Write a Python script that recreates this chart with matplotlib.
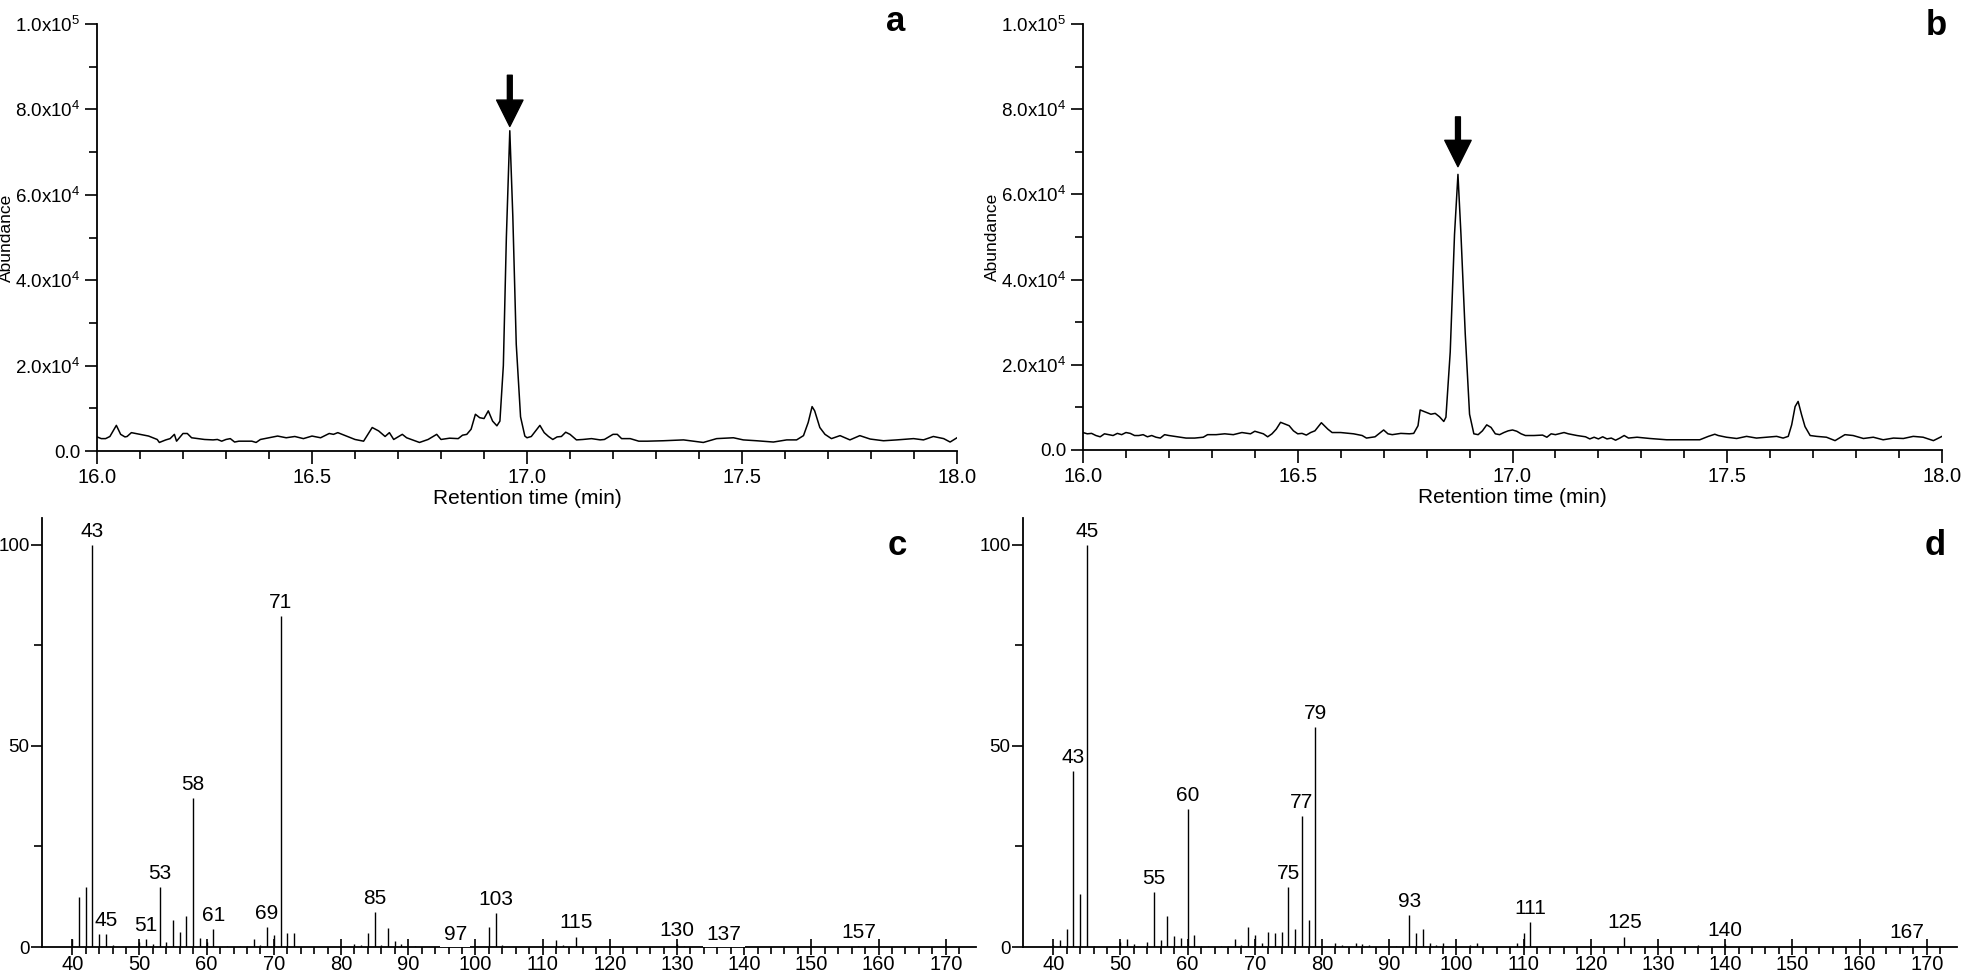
import numpy as np
import matplotlib
matplotlib.use("Agg")
import matplotlib.pyplot as plt
from matplotlib.ticker import FixedLocator, FuncFormatter

plt.rcParams['font.family'] = ['Liberation Sans', 'DejaVu Sans']
plt.rcParams['mathtext.fontset'] = 'custom'
plt.rcParams['mathtext.rm'] = 'Liberation Sans'

# ---- chromatogram a (time in min, abundance in 1e3 counts) ----
t_a = [16.00, 16.01, 16.02, 16.03, 16.045, 16.055, 16.065, 16.07, 16.08, 16.10,
       16.12, 16.14, 16.145, 16.16, 16.17, 16.18, 16.185, 16.20, 16.21, 16.22,
       16.235, 16.25, 16.27, 16.28, 16.29, 16.30, 16.31, 16.32, 16.33, 16.36,
       16.37, 16.38, 16.40, 16.42, 16.44, 16.46, 16.48, 16.50, 16.52, 16.54,
       16.55, 16.56, 16.58, 16.60, 16.62, 16.64, 16.655, 16.67, 16.68, 16.69,
       16.71, 16.72, 16.75, 16.77, 16.79, 16.80, 16.82, 16.84, 16.85, 16.86,
       16.87, 16.88, 16.89, 16.90, 16.91, 16.92, 16.93, 16.937, 16.945, 16.952,
       16.96, 16.967, 16.975, 16.985, 16.995, 17.00, 17.01, 17.03, 17.04, 17.05,
       17.06, 17.07, 17.08, 17.09, 17.10, 17.115, 17.13, 17.15, 17.17, 17.18,
       17.20, 17.21, 17.22, 17.24, 17.26, 17.28, 17.317, 17.364, 17.41, 17.441,
       17.48, 17.503, 17.534, 17.573, 17.604, 17.627, 17.643, 17.654, 17.663, 17.669,
       17.681, 17.693, 17.708, 17.728, 17.751, 17.774, 17.798, 17.829, 17.86, 17.899,
       17.922, 17.945, 17.969, 17.984, 18.00]
ab_a = [3.3, 2.9, 2.9, 3.4, 6.0, 3.9, 3.3, 3.4, 4.3, 3.9,
        3.5, 2.7, 2.0, 2.6, 2.9, 3.9, 2.3, 4.1, 4.1, 3.1,
        2.9, 2.7, 2.6, 2.7, 2.3, 2.7, 2.9, 2.1, 2.3, 2.3,
        2.0, 2.7, 3.1, 3.5, 3.1, 3.4, 2.9, 3.5, 3.1, 4.1,
        3.9, 4.3, 3.5, 2.7, 2.3, 5.5, 4.7, 3.4, 4.3, 2.7,
        3.9, 3.1, 2.0, 2.7, 3.9, 2.7, 3.0, 2.9, 3.7, 3.9,
        5.1, 8.6, 7.8, 7.6, 9.4, 7.0, 5.9, 7.0, 20.0, 50.0,
        75.0, 55.0, 25.0, 8.0, 3.5, 3.1, 3.4, 6.0, 4.3, 3.4,
        2.7, 3.3, 3.4, 4.4, 3.9, 2.6, 2.7, 2.9, 2.6, 2.7,
        3.9, 3.9, 2.9, 2.9, 2.3, 2.3, 2.4, 2.6, 2.0, 2.9,
        3.1, 2.6, 2.4, 2.1, 2.6, 2.6, 3.6, 6.7, 10.4, 9.4,
        5.5, 3.9, 2.9, 3.6, 2.6, 3.6, 2.8, 2.4, 2.6, 2.9,
        2.6, 3.4, 2.9, 2.1, 3.1]

# ---- chromatogram b ----
t_b = [16.00, 16.01, 16.02, 16.03, 16.04, 16.05, 16.06, 16.07, 16.08, 16.09,
       16.10, 16.11, 16.12, 16.13, 16.14, 16.15, 16.16, 16.17, 16.18, 16.19,
       16.20, 16.22, 16.24, 16.26, 16.28, 16.29, 16.31, 16.33, 16.35, 16.37,
       16.39, 16.40, 16.42, 16.43, 16.44, 16.45, 16.46, 16.47, 16.48, 16.49,
       16.50, 16.51, 16.52, 16.53, 16.54, 16.555, 16.57, 16.58, 16.60, 16.62,
       16.63, 16.65, 16.66, 16.68, 16.70, 16.71, 16.72, 16.74, 16.76, 16.77,
       16.78, 16.785, 16.80, 16.81, 16.82, 16.83, 16.84, 16.845, 16.855, 16.865,
       16.873, 16.88, 16.89, 16.90, 16.91, 16.92, 16.93, 16.94, 16.95, 16.96,
       16.97, 16.98, 16.99, 17.00, 17.01, 17.02, 17.03, 17.05, 17.07, 17.08,
       17.09, 17.10, 17.12, 17.13, 17.15, 17.17, 17.18, 17.19, 17.20, 17.21,
       17.22, 17.23, 17.24, 17.25, 17.26, 17.27, 17.29, 17.31, 17.32, 17.359,
       17.398, 17.436, 17.456, 17.471, 17.479, 17.498, 17.522, 17.545, 17.568, 17.592,
       17.615, 17.63, 17.642, 17.65, 17.658, 17.665, 17.673, 17.681, 17.693, 17.708,
       17.731, 17.751, 17.774, 17.793, 17.817, 17.84, 17.863, 17.887, 17.91, 17.933,
       17.956, 17.98, 18.00]
ab_b = [4.1, 3.8, 3.9, 3.4, 3.1, 3.8, 3.6, 3.4, 3.9, 3.6,
        4.1, 3.9, 3.4, 3.4, 3.6, 3.1, 3.4, 3.0, 2.8, 3.6,
        3.4, 3.1, 2.8, 2.8, 3.0, 3.6, 3.6, 3.8, 3.6, 4.1,
        3.8, 4.4, 3.8, 3.1, 3.8, 4.9, 6.5, 6.1, 5.7, 4.5,
        3.8, 3.9, 3.5, 4.1, 4.5, 6.4, 4.9, 4.1, 4.1, 3.9,
        3.8, 3.4, 2.8, 3.1, 4.7, 3.8, 3.6, 3.9, 3.8, 3.9,
        5.7, 9.4, 8.8, 8.4, 8.6, 7.8, 6.7, 7.7, 23.0, 50.6,
        64.7, 50.6, 27.2, 8.4, 3.8, 3.6, 4.5, 5.9, 5.3, 3.8,
        3.6, 4.1, 4.5, 4.7, 4.4, 3.8, 3.4, 3.4, 3.5, 3.0,
        3.8, 3.6, 4.1, 3.8, 3.4, 3.1, 2.6, 3.0, 2.6, 3.1,
        2.6, 2.8, 2.3, 2.8, 3.4, 2.8, 3.0, 2.8, 2.7, 2.4,
        2.4, 2.4, 3.2, 3.7, 3.4, 3.0, 2.7, 3.2, 2.8, 3.0,
        3.2, 2.8, 3.2, 5.9, 10.2, 11.4, 8.3, 5.5, 3.4, 3.2,
        3.0, 2.2, 3.6, 3.4, 2.7, 3.0, 2.4, 2.8, 2.7, 3.2,
        3.0, 2.2, 3.2]

# arrow marks over the target peak (time, tip, tail) in 1e3 counts
arrow_a = (16.96, 76.0, 88.0)
arrow_b = (16.873, 66.5, 78.2)

# ---- mass spectrum c ----
mz_c = [40, 41, 42, 43, 44, 45, 46, 50, 51, 52, 53, 54, 55, 56, 57, 58, 59, 60, 61,
        63, 65, 66, 67, 68, 69, 70, 71, 72, 73, 82, 83, 84, 85, 86, 87, 88, 89,
        91, 97, 102, 103, 104, 112, 113, 115, 130, 131, 137, 157]
int_c = [1.9, 12.5, 15.0, 100, 3.3, 3.3, 0.4, 1.2, 1.9, 0.7, 15.0, 1.2, 6.6, 3.7, 7.7,
         37.0, 2.2, 1.2, 4.4, 0.2, 0.2, 0.3, 2.1, 0.4, 5.0, 3.0, 82.3, 3.6, 3.5,
         0.8, 0.4, 3.4, 8.7, 0.6, 4.8, 1.4, 0.8, 0.2, 0.3, 5.0, 8.5, 0.4, 1.7, 0.4,
         2.6, 0.8, 0.2, 0.3, 0.3]
labels_c = [43, 45, 51, 53, 58, 61, 69, 71, 85, 97, 103, 115, 130, 137, 157]
gap_labels_c = [97, 137]

# ---- mass spectrum d ----
mz_d = [40, 41, 42, 43, 44, 45, 46, 50, 51, 52, 54, 55, 56, 57, 58, 59, 60, 61, 62,
        63, 65, 66, 67, 68, 69, 70, 71, 72, 73, 74, 75, 76, 77, 78, 79, 82, 83, 85,
        86, 87, 91, 93, 94, 95, 96, 97, 98, 102, 103, 109, 110, 111, 125, 136, 140, 167]
int_d = [0.4, 1.7, 4.6, 43.7, 13.2, 100, 0.2, 1.2, 1.9, 0.7, 1.2, 13.7, 1.7, 7.7, 2.7,
         2.2, 34.4, 3.0, 0.2, 0.2, 0.2, 0.3, 2.1, 0.4, 5.0, 3.1, 1.1, 3.7, 3.6, 3.7,
         14.9, 4.4, 32.5, 6.7, 54.7, 0.9, 0.4, 0.9, 0.7, 0.4, 0.2, 7.9, 3.4, 4.4, 1.1,
         0.4, 0.9, 0.5, 1.1, 1.1, 3.4, 6.3, 2.6, 0.4, 0.8, 0.3]
labels_d = [43, 45, 55, 60, 75, 77, 79, 93, 111, 125, 140, 167]

W, H = 1961, 977
fig = plt.figure(figsize=(W / 100, H / 100), dpi=100)


def px_axes(left, right, top, bottom):
    return fig.add_axes([left / W, 1 - bottom / H, (right - left) / W, (bottom - top) / H])


def sci_fmt(v, pos):
    if v == 0:
        return '0.0'
    e = int(np.floor(np.log10(v)))
    return r'$\mathregular{%.1fx10^{%d}}$' % (v / 10 ** e, e)


def chromatogram(ax, t, ab, arrow, letter, lx, ly):
    ax.plot(t, np.array(ab) * 1e3, color='black', lw=1.1)
    ax.set_xlim(16.0, 18.0)
    ax.set_ylim(0, 1e5)
    for s in ['top', 'right']:
        ax.spines[s].set_visible(False)
    for s in ['left', 'bottom']:
        ax.spines[s].set_linewidth(1.3)
    ax.set_xticks([16.0, 16.5, 17.0, 17.5, 18.0])
    ax.set_xticks(np.arange(16.1, 18.0, 0.1), minor=True)
    ax.set_yticks(np.arange(0, 1.01e5, 2e4))
    ax.set_yticks(np.arange(1e4, 1e5, 2e4), minor=True)
    ax.yaxis.set_major_formatter(FuncFormatter(sci_fmt))
    ax.xaxis.set_major_formatter(FuncFormatter(lambda v, p: '%.1f' % v))
    ax.tick_params(which='major', direction='out', length=9, width=1.2, labelsize=13.5, pad=3)
    ax.tick_params(axis='x', which='major', labelsize=14.5)
    ax.tick_params(which='minor', direction='out', length=6, width=1.2)
    ax.set_xlabel('Retention time (min)', fontsize=15, labelpad=2)
    ax.set_ylabel('Abundance', fontsize=12.5)
    ax.yaxis.set_label_coords(-0.097, 0.5)
    x0, tip, tail = arrow
    ax.annotate('', xy=(x0, tip * 1e3), xytext=(x0, tail * 1e3),
                arrowprops=dict(facecolor='black', edgecolor='black', width=3.5,
                                headwidth=19, headlength=19, shrink=0))
    fig.text(lx / W, 1 - ly / H, letter, fontsize=25, fontweight='bold', ha='center', va='baseline')


def spectrum(ax, mz, inten, labels, gaps, letter, lx, ly):
    ax.vlines(mz, 0, inten, color='black', lw=1.0)
    ax.set_xlim(35.5, 174.5)
    ax.set_ylim(0, 106.7)
    for s in ['top', 'right']:
        ax.spines[s].set_visible(False)
    for s in ['left', 'bottom']:
        ax.spines[s].set_linewidth(1.3)
    ax.set_xticks(np.arange(40, 171, 10))
    ax.xaxis.set_minor_locator(FixedLocator([m for m in range(42, 173, 2) if m % 10]))
    ax.set_yticks([0, 50, 100])
    ax.set_yticks([25, 75], minor=True)
    ax.tick_params(axis='x', which='major', direction='inout', length=12, width=1.2,
                   labelsize=14.5, pad=0)
    ax.tick_params(axis='x', which='minor', direction='out', length=5, width=1.2)
    ax.tick_params(axis='y', which='major', direction='out', length=8, width=1.2,
                   labelsize=13.5, pad=1)
    ax.tick_params(axis='y', which='minor', direction='out', length=6, width=1.2)
    lookup = dict(zip(mz, inten))
    for m in labels:
        if m in gaps:
            ax.annotate(str(m), xy=(m, 0), xytext=(0, 2.5), textcoords='offset points',
                        ha='center', va='bottom', fontsize=15, zorder=5,
                        bbox=dict(facecolor='white', edgecolor='none', pad=2.5))
        else:
            ax.annotate(str(m), xy=(m, lookup[m]), xytext=(0, 3), textcoords='offset points',
                        ha='center', va='bottom', fontsize=15)
    fig.text(lx / W, 1 - ly / H, letter, fontsize=25, fontweight='bold', ha='center', va='baseline')


ax_a = px_axes(97, 957, 24, 451)
ax_b = px_axes(1083, 1942, 24, 450)
ax_c = px_axes(42, 976, 518, 947)
ax_d = px_axes(1023, 1957, 518, 947)

chromatogram(ax_a, t_a, ab_a, arrow_a, 'a', 896, 31)
chromatogram(ax_b, t_b, ab_b, arrow_b, 'b', 1936, 35)
spectrum(ax_c, mz_c, int_c, labels_c, gap_labels_c, 'c', 897, 555)
spectrum(ax_d, mz_d, int_d, labels_d, [], 'd', 1935, 555)

fig.savefig('out.png', dpi=100, facecolor='white')
